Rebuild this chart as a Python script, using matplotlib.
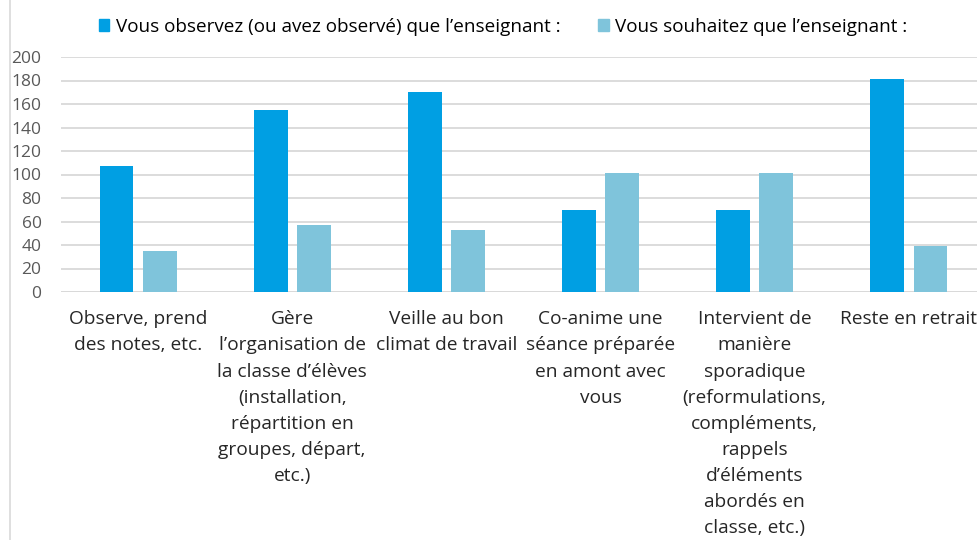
import matplotlib.pyplot as plt
import numpy as np
from matplotlib.lines import Line2D
from matplotlib.patches import Patch

plt.rcParams['font.family'] = ['Open Sans', 'DejaVu Sans']

categories = [
    "Observe, prend\ndes notes, etc.",
    "Gère\nl’organisation de\nla classe d’élèves\n(installation,\nrépartition en\ngroupes, départ,\netc.)",
    "Veille au bon\nclimat de travail",
    "Co-anime une\nséance préparée\nen amont avec\nvous",
    "Intervient de\nmanière\nsporadique\n(reformulations,\ncompléments,\nrappels\nd’éléments\nabordés en\nclasse, etc.)",
    "Reste en retrait",
]
observed = [107, 155, 170, 70, 70, 181]
wished = [35, 57, 53, 101, 101, 39]
series_names = ["Vous observez (ou avez observé) que l’enseignant :",
                "Vous souhaitez que l’enseignant :"]
colors = ['#009FE3', '#7FC4DB']

fig = plt.figure(figsize=(9.78, 5.4), dpi=100)
ax = fig.add_axes([61/978, 248/540, 925/978, 235/540])

x = np.arange(len(categories))
w = 0.22
ax.bar(x - 0.14, observed, w, color=colors[0], zorder=3)
ax.bar(x + 0.14, wished, w, color=colors[1], zorder=3)

ax.set_xlim(-0.5, len(categories) - 0.5)
ax.set_ylim(0, 200)
ax.set_yticks(range(0, 201, 20))
ax.yaxis.grid(True, color='#D9D9D9', linewidth=1.3, zorder=0)
ax.tick_params(axis='y', length=0, labelsize=12.5, labelcolor='#595959', pad=14)
ax.set_xticks([])
for s in ax.spines.values():
    s.set_visible(False)
ax.axhline(0, color='#D9D9D9', linewidth=1.3, zorder=1)

for i, lab in enumerate(categories):
    ax.text(x[i], -0.078, lab, transform=ax.get_xaxis_transform(), ha='center', va='top',
            fontsize=13.8, color='#262626', linespacing=1.58)

fig.add_artist(Line2D([10/978, 10/978], [0, 1], color='#D9D9D9', linewidth=1.2))

handles = [Patch(color=c) for c in colors]
fig.legend(handles, series_names, loc='center left', bbox_to_anchor=(82/978, 1 - 27/540),
           ncol=2, frameon=False, fontsize=13.6, handlelength=0.55, handleheight=0.6,
           handletextpad=0.35, columnspacing=2.0)

plt.savefig('out.png', dpi=100)
